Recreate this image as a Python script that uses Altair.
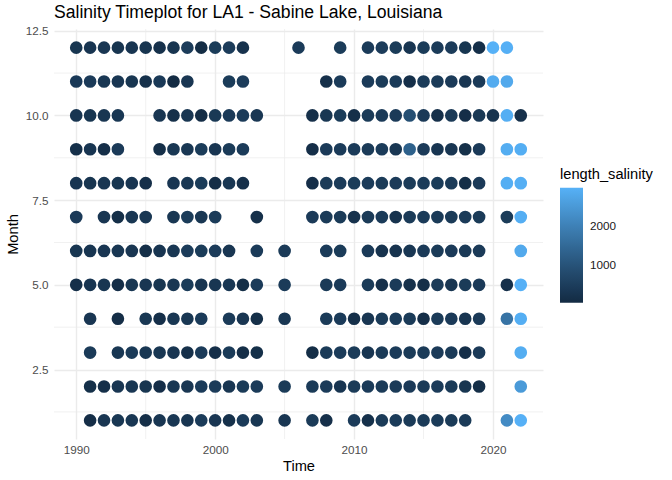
import altair as alt
import pandas as pd

TITLE = "Salinity Timeplot for LA1 - Sabine Lake, Louisiana"

# ---- data (year, length_salinity) per month ----
yrs_12 = list(range(1990, 2003)) + [2006, 2009] + list(range(2011, 2022))
val_12 = [310, 300, 320, 290, 300, 280, 200, 290, 470, 90, 450, 460, 230,
          440, 450,
          440, 460, 450, 300, 450, 440, 460, 310, 150, 2965, 2930]

yrs_11 = list(range(1990, 1999)) + [2001, 2002, 2008, 2009] + list(range(2011, 2022))
val_11 = [400, 420, 330, 320, 310, 200, 400, 45, 320,
          450, 460, 180, 440,
          440, 450, 440, 150, 440, 430, 420, 320, 420, 2850, 2800]

yrs_10 = list(range(1990, 1994)) + list(range(1996, 2004)) + list(range(2007, 2023))
val_10 = [300, 310, 320, 330,
          320, 180, 320, 100, 380, 420, 440, 330,
          180, 330, 450, 150, 430, 420, 420, 900, 420, 180, 410, 130, 380, 250, 2900, 180]

yrs_9 = list(range(1990, 1994)) + list(range(1996, 2003)) + list(range(2007, 2020)) + [2021, 2022]
val_9 = [150, 300, 130, 420,
         140, 330, 340, 450, 300, 430, 440,
         130, 420, 440, 440, 430, 440, 330, 1300, 420, 300, 320, 160, 420,
         2880, 2900]

yrs_8 = list(range(1990, 1996)) + list(range(1997, 2003)) + list(range(2007, 2020)) + [2021, 2022]
val_8 = [300, 290, 320, 310, 300, 150,
         320, 330, 450, 120, 330, 170,
         130, 430, 440, 450, 440, 430, 440, 430, 440, 450, 430, 140, 420,
         2900, 2920]

yrs_7 = [1990] + list(range(1992, 1996)) + list(range(1997, 2001)) + [2003] + list(range(2007, 2020)) + [2021, 2022]
val_7 = [420,
         320, 140, 330, 330,
         340, 450, 330, 440,
         180,
         420, 430, 430, 220, 430, 440, 250, 430, 440, 430, 430, 440, 430,
         450, 2900]

yrs_6 = list(range(1990, 2002)) + [2003, 2005, 2008, 2009] + list(range(2011, 2020)) + [2022]
val_6 = [310, 300, 320, 330, 320, 140, 300, 330, 460, 450, 440, 320,
         440, 430, 440, 450,
         420, 250, 240, 330, 420, 430, 420, 410, 420,
         2800]

yrs_5 = list(range(1990, 2004)) + [2005, 2008, 2009] + list(range(2011, 2020)) + [2021, 2022]
val_5 = [150, 300, 320, 130, 330, 320, 310, 330, 450, 300, 320, 330, 110, 440,
         440, 430, 440,
         430, 180, 440, 200, 140, 430, 320, 430, 420,
         170, 2950]

yrs_4 = [1991, 1993] + list(range(1995, 2000)) + [2001, 2002, 2003, 2005] + list(range(2008, 2020)) + [2021, 2022]
val_4 = [320, 120,
         330, 150, 330, 340, 440,
         430, 320, 140, 340,
         430, 440, 150, 320, 430, 440, 430, 130, 430, 420, 300, 420,
         1700, 2900]

yrs_3 = [1991] + list(range(1993, 2004)) + list(range(2007, 2020)) + [2022]
val_3 = [430,
         330, 430, 340, 330, 320, 170, 440, 150, 430, 120, 160,
         100, 430, 440, 430, 300, 430, 440, 430, 430, 420, 430, 130, 420,
         2880]

yrs_2 = list(range(1991, 2004)) + [2005] + list(range(2007, 2020)) + [2022]
val_2 = [160, 150, 320, 330, 310, 130, 330, 320, 440, 440, 320, 430, 440,
         430,
         430, 440, 300, 430, 440, 430, 430, 420, 430, 440, 430, 310, 140,
         2500]

yrs_1 = list(range(1991, 2004)) + [2005, 2007, 2008] + list(range(2010, 2019)) + [2021, 2022]
val_1 = [120, 320, 330, 330, 140, 320, 330, 300, 440, 320, 200, 440, 330,
         320, 430, 180,
         440, 200, 430, 440, 430, 430, 440, 430, 430,
         2200, 2950]

x_ticks = [1990, 2000, 2010, 2020]
x_minor = [1995, 2005, 2015]
y_ticks = [2.5, 5.0, 7.5, 10.0, 12.5]
y_minor = [1.25, 3.75, 6.25, 8.75, 11.25]
legend_ticks = [1000, 2000]

# ---- assemble ----
rows = []
for m, yrs, vals in [(12, yrs_12, val_12), (11, yrs_11, val_11), (10, yrs_10, val_10),
                     (9, yrs_9, val_9), (8, yrs_8, val_8), (7, yrs_7, val_7),
                     (6, yrs_6, val_6), (5, yrs_5, val_5), (4, yrs_4, val_4),
                     (3, yrs_3, val_3), (2, yrs_2, val_2), (1, yrs_1, val_1)]:
    assert len(yrs) == len(vals), m
    for y, v in zip(yrs, vals):
        rows.append({"Time": y, "Month": m, "length_salinity": v})
df = pd.DataFrame(rows)

FONT = "Liberation Sans"
GRID = "#EBEBEB"

xscale = alt.Scale(domain=[1988.4, 2023.6], nice=False, zero=False)
yscale = alt.Scale(domain=[0.45, 12.55], nice=False, zero=False)

xaxis = alt.Axis(values=x_ticks, format="d", title="Time", grid=True,
                 gridColor=GRID, gridWidth=1.4, domain=False, ticks=False,
                 tickSize=0, labelPadding=5, labelColor="#4D4D4D",
                 labelFontSize=11.7, labelFont=FONT, titleFont=FONT,
                 titleFontSize=14.67, titleFontWeight="normal",
                 titleColor="black", titlePadding=3)
yaxis = alt.Axis(values=y_ticks, format=".1f", title="Month", grid=True,
                 gridColor=GRID, gridWidth=1.4, domain=False, ticks=False,
                 tickSize=0, labelPadding=6, labelColor="#4D4D4D",
                 labelFontSize=11.7, labelFont=FONT, titleFont=FONT,
                 titleFontSize=14.67, titleFontWeight="normal",
                 titleColor="black", titlePadding=5)

minor_x = alt.Chart(pd.DataFrame({"Time": x_minor})).mark_rule(
    color=GRID, strokeWidth=0.7
).encode(x=alt.X("Time:Q", scale=xscale, axis=xaxis))

minor_y = alt.Chart(pd.DataFrame({"Month": y_minor})).mark_rule(
    color=GRID, strokeWidth=0.7
).encode(y=alt.Y("Month:Q", scale=yscale, axis=yaxis))

points = alt.Chart(df).mark_circle(size=160, opacity=1).encode(
    x=alt.X("Time:Q", scale=xscale, axis=xaxis),
    y=alt.Y("Month:Q", scale=yscale, axis=yaxis),
    color=alt.Color("length_salinity:Q",
                    scale=alt.Scale(range=["#132B43", "#56B1F7"], interpolate="lab",
                                    zero=False, nice=False),
                    legend=alt.Legend(orient="none", legendX=506, legendY=138,
                                      direction="vertical", gradientLength=115,
                                      gradientThickness=23, gradientStrokeWidth=0,
                                      values=legend_ticks, format="d", padding=0,
                                      titleFont=FONT, titleFontSize=14.67,
                                      titleFontWeight="normal", titleColor="black",
                                      titlePadding=6, labelFont=FONT,
                                      labelFontSize=11.7, labelColor="#1A1A1A",
                                      labelOffset=7)),
)

chart = alt.layer(minor_x, minor_y, points).properties(
    width=489, height=410,
    autosize=alt.AutoSizeParams(type="none"),
    padding={"left": 54, "top": 29, "right": 129, "bottom": 41},
    background="white",
    title=alt.Title(TITLE, anchor="start", frame="group", fontSize=17.6,
                    fontWeight="normal", font=FONT, color="black", offset=4),
).configure_view(strokeWidth=0)

chart.save("out.html", embed_options={"renderer": "svg", "actions": False})
